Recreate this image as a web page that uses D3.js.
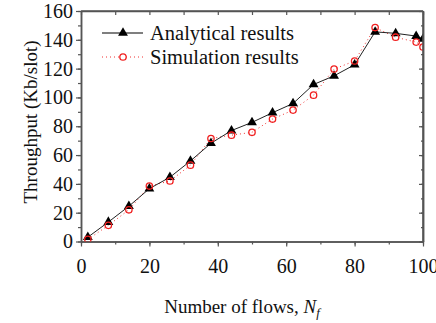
<!DOCTYPE html>
<html>
<head>
<meta charset="utf-8">
<script src="https://cdn.jsdelivr.net/npm/d3@7"></script>
<style>
  body { margin: 0; background: #fff; }
  text { font-family: "Liberation Serif", "Times New Roman", serif; }
</style>
</head>
<body>
<svg id="chart"></svg>
<script>
var width = 436;
var height = 323;

// analytical results (triangles)
var anaFlows = [2, 8, 14, 20, 26, 32, 38, 44, 50, 56, 62, 68, 74, 80, 86, 92, 98, 100];
var anaThroughput = [3, 13.5, 24.5, 36.7, 44.6, 55.9, 68.2, 77, 82.7, 89.4, 95.8, 109, 115, 122.7, 145.5, 144.5, 142.6, 140.6];

// simulation results (open circles)
var simFlows = [2, 8, 14, 20, 26, 32, 38, 44, 50, 56, 62, 68, 74, 80, 86, 92, 98, 100];
var simThroughput = [1.5, 11.2, 22, 38.5, 42, 53, 71.5, 73.8, 75.8, 85, 91.2, 101.6, 119.7, 125.3, 148.5, 141.8, 138.4, 135];

var xTicks = [0, 20, 40, 60, 80, 100];
var yTicks = [0, 20, 40, 60, 80, 100, 120, 140, 160];

var padL = 81, padR = 423, padT = 11, padB = 241.5;

var xScale = d3.scaleLinear().domain([0, 100]).range([padL, padR]);
var yScale = d3.scaleLinear().domain([0, 160]).range([padB, padT]);

var svg = d3.select("#chart")
    .attr("width", width)
    .attr("height", height);

svg.append("defs").append("clipPath")
    .attr("id", "plotClip")
    .append("rect")
        .attr("x", padL)
        .attr("y", padT)
        .attr("width", padR - padL)
        .attr("height", padB - padT);

var axisColor = "#555";
var minorX = d3.range(0, 101, 10);
var minorY = d3.range(0, 161, 10);

// bottom axis (outward ticks)
svg.append("g")
    .attr("transform", "translate(0," + padB + ")")
    .call(d3.axisBottom(xScale).tickValues(xTicks).tickSize(5).tickPadding(12).tickSizeOuter(0));
svg.append("g")
    .attr("transform", "translate(0," + padB + ")")
    .call(d3.axisBottom(xScale).tickValues(minorX).tickSize(3).tickFormat("").tickSizeOuter(0));

// left axis (outward ticks)
svg.append("g")
    .attr("transform", "translate(" + padL + ",0)")
    .call(d3.axisLeft(yScale).tickValues(yTicks).tickSize(5).tickPadding(3).tickSizeOuter(0));
svg.append("g")
    .attr("transform", "translate(" + padL + ",0)")
    .call(d3.axisLeft(yScale).tickValues(minorY).tickSize(3).tickFormat("").tickSizeOuter(0));

// top and right mirror axes (inward ticks)
svg.append("g")
    .attr("transform", "translate(0," + padT + ")")
    .call(d3.axisBottom(xScale).tickValues(minorX).tickSize(4).tickFormat("").tickSizeOuter(0));
svg.append("g")
    .attr("transform", "translate(" + padR + ",0)")
    .call(d3.axisLeft(yScale).tickValues(yTicks).tickSize(4).tickFormat("").tickSizeOuter(0));
svg.append("g")
    .attr("transform", "translate(" + padR + ",0)")
    .call(d3.axisLeft(yScale).tickValues(minorY).tickSize(2).tickFormat("").tickSizeOuter(0));

svg.selectAll(".domain").attr("stroke", axisColor).attr("stroke-width", 1.5);
svg.selectAll(".tick line").attr("stroke", axisColor).attr("stroke-width", 1.2);
svg.selectAll(".tick text")
    .attr("fill", "#111")
    .style("font-size", "20px")
    .style("font-family", "'Liberation Serif', serif");

var plot = svg.append("g").attr("clip-path", "url(#plotClip)");

var anaData = anaFlows.map((f, i) => ({x: f, y: anaThroughput[i]}));
var simData = simFlows.map((f, i) => ({x: f, y: simThroughput[i]}));

var line = d3.line().x(d => xScale(d.x)).y(d => yScale(d.y));

plot.append("path")
    .datum(simData)
    .attr("d", line)
    .attr("fill", "none")
    .attr("stroke", "#f03030")
    .attr("stroke-width", 1)
    .attr("stroke-dasharray", "1,3");

plot.append("path")
    .datum(anaData)
    .attr("d", line)
    .attr("fill", "none")
    .attr("stroke", "#222")
    .attr("stroke-width", 1);

var tri = d3.symbol().type(d3.symbolTriangle).size(42);

plot.selectAll(".tri")
    .data(anaData)
    .enter()
    .append("path")
        .attr("transform", d => "translate(" + xScale(d.x) + "," + yScale(d.y) + ")")
        .attr("d", tri)
        .attr("fill", "#000");

plot.selectAll(".circ")
    .data(simData)
    .enter()
    .append("circle")
        .attr("cx", d => xScale(d.x))
        .attr("cy", d => yScale(d.y))
        .attr("r", 3.2)
        .attr("fill", "none")
        .attr("stroke", "#f02020")
        .attr("stroke-width", 1.3);

// border frame lines
svg.append("line").attr("x1", padL).attr("x2", padR).attr("y1", padT).attr("y2", padT)
    .attr("stroke", axisColor).attr("stroke-width", 1.5);
svg.append("line").attr("x1", padR).attr("x2", padR).attr("y1", padT).attr("y2", padB)
    .attr("stroke", axisColor).attr("stroke-width", 1.5);

// legend
var legend = svg.append("g");
legend.append("line").attr("x1", 102).attr("x2", 143).attr("y1", 33).attr("y2", 33)
    .attr("stroke", "#000").attr("stroke-width", 1.2);
legend.append("path").attr("transform", "translate(123,33)").attr("d", tri).attr("fill", "#000");
legend.append("text").attr("x", 150).attr("y", 40).style("font-size", "20.5px").attr("fill", "#111")
    .text("Analytical results");

legend.append("line").attr("x1", 102).attr("x2", 143).attr("y1", 57).attr("y2", 57)
    .attr("stroke", "#f03030").attr("stroke-width", 1).attr("stroke-dasharray", "1,3");
legend.append("circle").attr("cx", 123).attr("cy", 57).attr("r", 3.2)
    .attr("fill", "#fff").attr("stroke", "#f02020").attr("stroke-width", 1.3);
legend.append("text").attr("x", 150).attr("y", 64).style("font-size", "20.5px").attr("fill", "#111")
    .text("Simulation results");

// axis titles
var xt = svg.append("text")
    .attr("x", 242)
    .attr("y", 313)
    .style("text-anchor", "middle")
    .style("font-size", "19px")
    .attr("fill", "#111");
xt.append("tspan").text("Number of flows, ");
xt.append("tspan").style("font-style", "italic").text("N");
xt.append("tspan").style("font-style", "italic").style("font-size", "13px").attr("dy", 4).text("f");

svg.append("text")
    .attr("transform", "rotate(-90)")
    .attr("x", -122)
    .attr("y", 37)
    .style("text-anchor", "middle")
    .style("font-size", "19px")
    .attr("fill", "#111")
    .text("Throughput (Kb/slot)");
</script>
</body>
</html>
